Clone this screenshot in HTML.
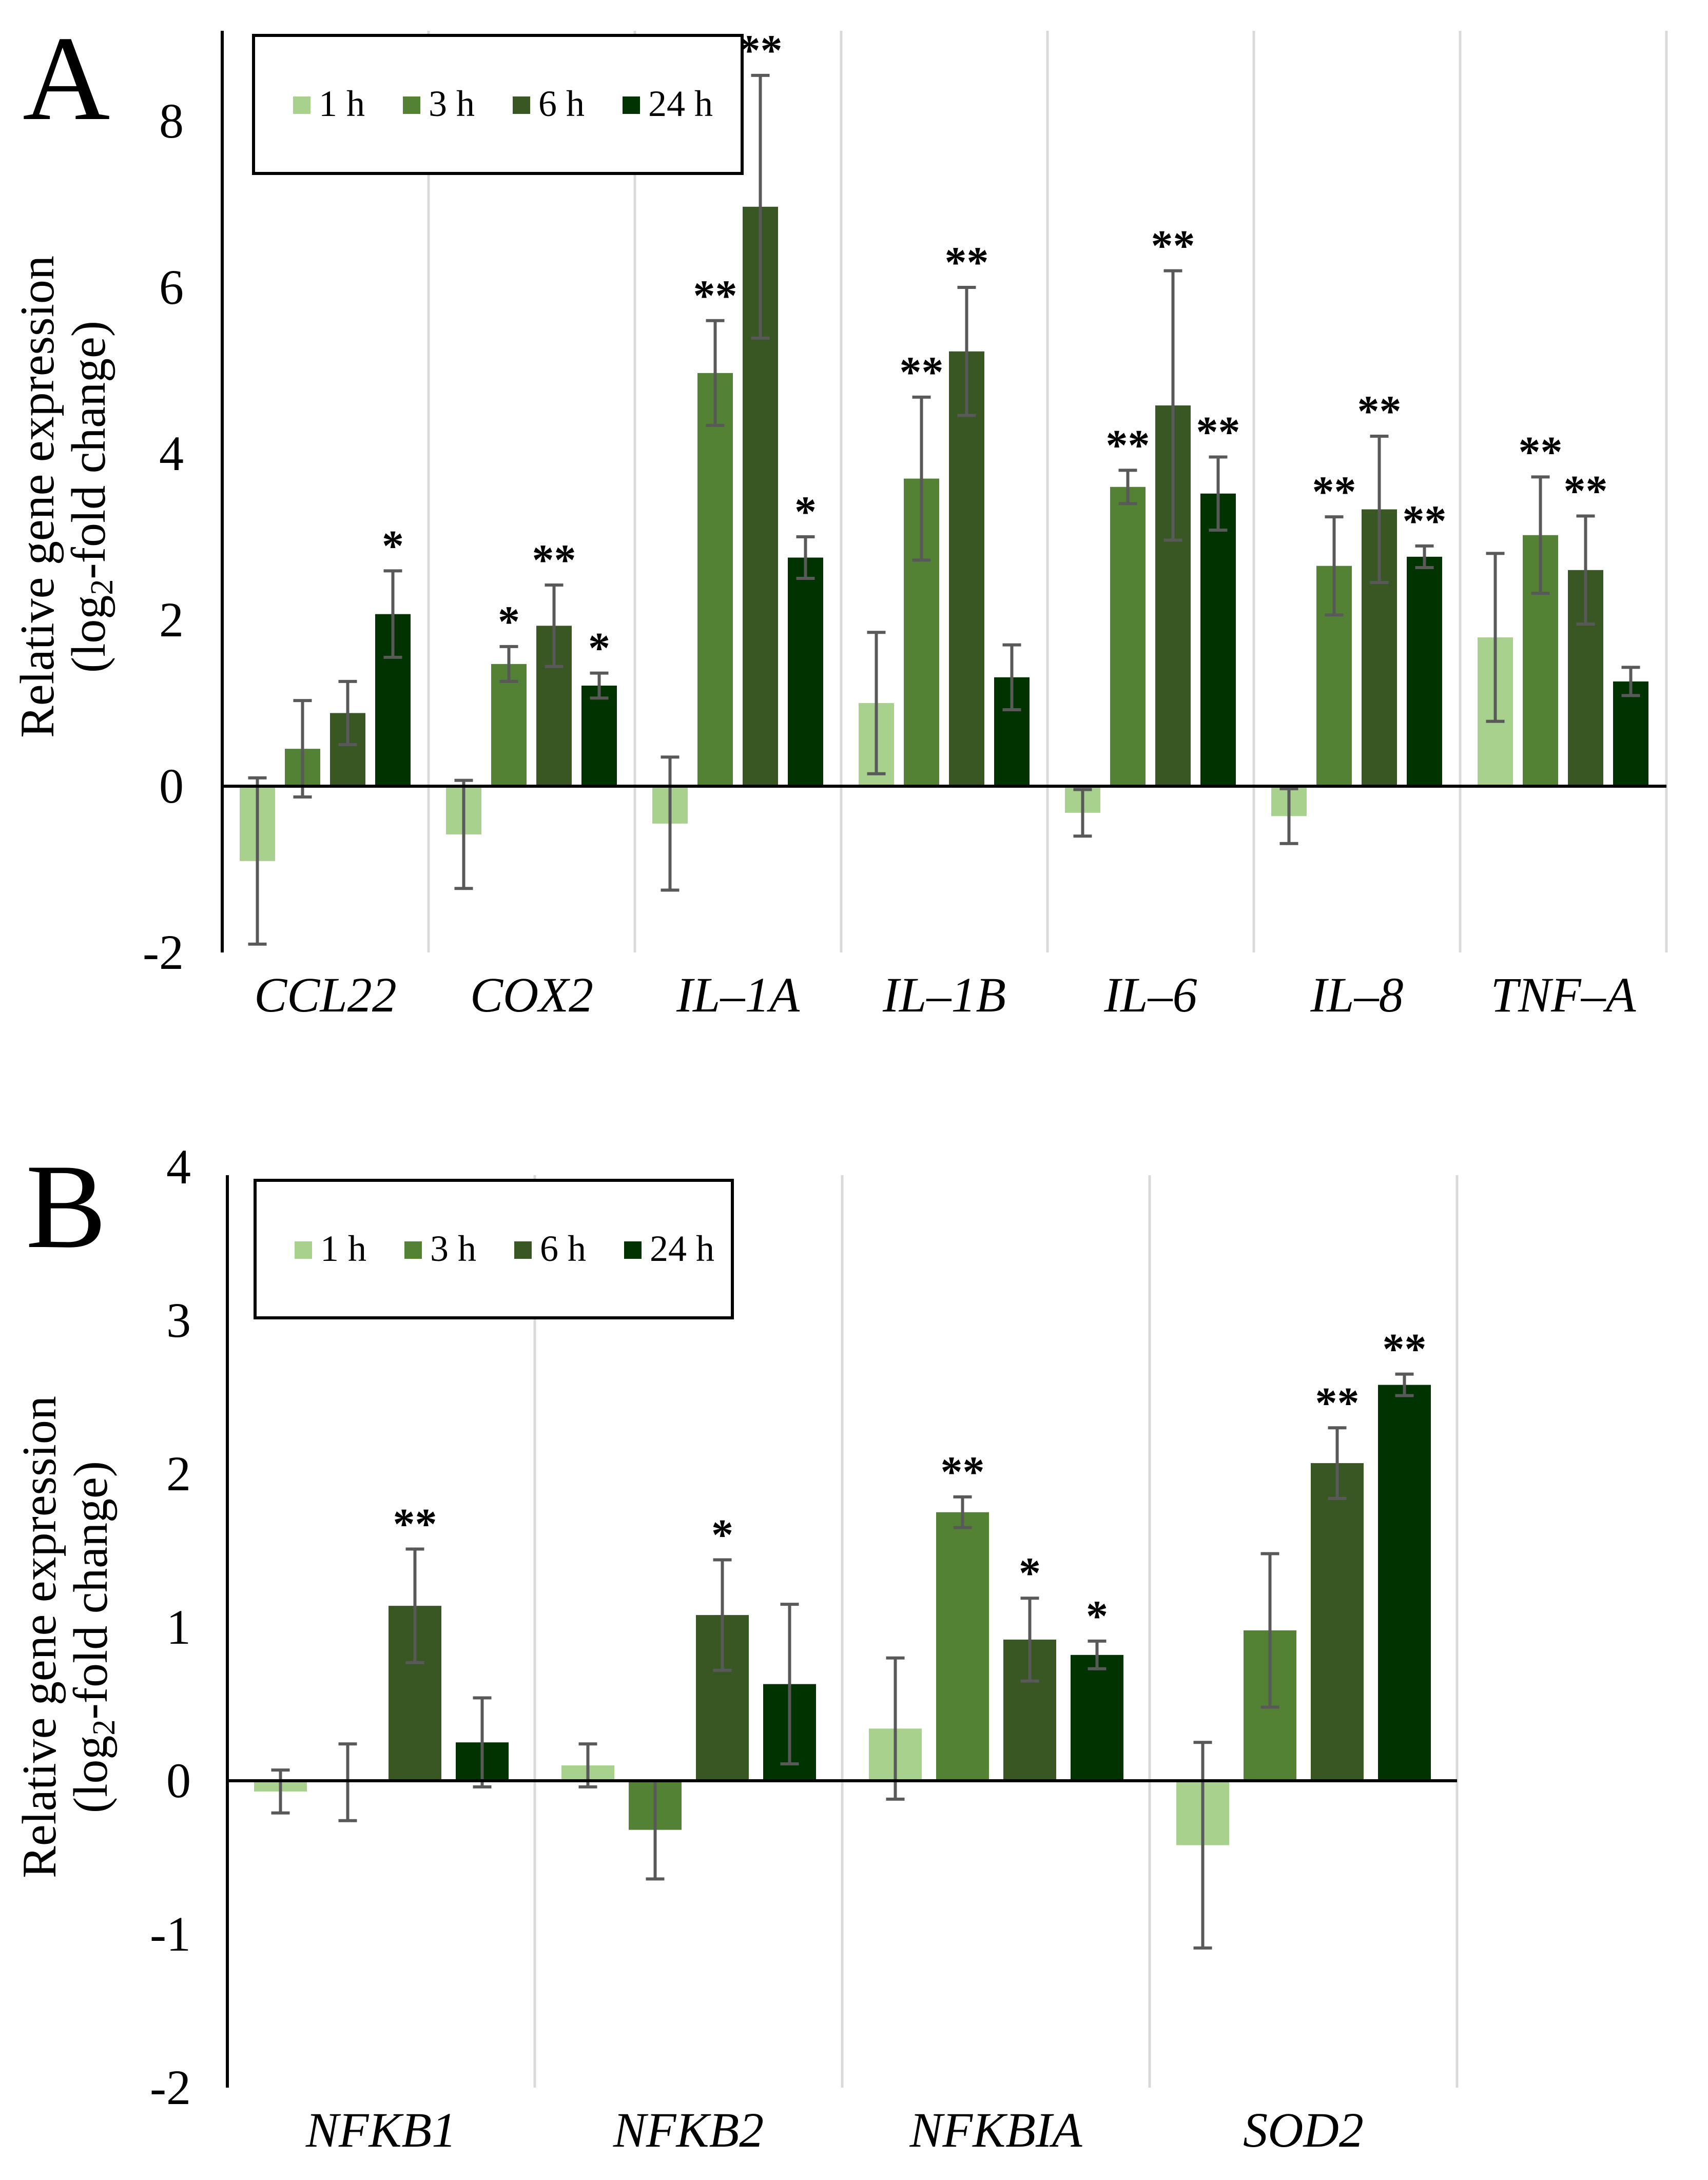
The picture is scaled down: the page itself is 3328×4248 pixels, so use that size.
<!DOCTYPE html>
<html><head><meta charset="utf-8">
<style>
html,body{margin:0;padding:0;background:#fff;}
svg{display:block;font-family:"Liberation Serif","Times New Roman",serif;}
</style></head>
<body>
<svg id="fig" width="3328" height="4248" viewBox="0 0 3328 4248" xmlns="http://www.w3.org/2000/svg">
<g id="panelA"></g>
<g id="panelB"></g>
</svg>
<script>
// Panel A data
const catsA = ["CCL22","COX2","IL\u20131A","IL\u20131B","IL\u20136","IL\u20138","TNF\u2013A"];
const h1A  = [-0.90,-0.58,-0.45,1.00,-0.32,-0.36,1.79];
const h3A  = [0.45,1.47,4.97,3.70,3.60,2.65,3.02];
const h6A  = [0.88,1.93,6.97,5.23,4.58,3.33,2.60];
const h24A = [2.07,1.21,2.75,1.31,3.52,2.76,1.26];
const e1A  = [1.00,0.65,0.80,0.85,0.28,0.33,1.01];
const e3A  = [0.58,0.21,0.63,0.98,0.20,0.59,0.70];
const e6A  = [0.38,0.49,1.58,0.77,1.62,0.88,0.65];
const e24A = [0.52,0.15,0.25,0.39,0.44,0.13,0.17];
const s1A  = ["","","","","","",""];
const s3A  = ["","*","**","**","**","**","**"];
const s6A  = ["","**","**","**","**","**","**"];
const s24A = ["*","*","*","","**","**",""];
const ticksA = [-2,0,2,4,6,8];
// Panel B data
const catsB = ["NFKB1","NFKB2","NFKBIA","SOD2"];
const h1B  = [-0.07,0.10,0.34,-0.42];
const h3B  = [-0.01,-0.32,1.75,0.98];
const h6B  = [1.14,1.08,0.92,2.07];
const h24B = [0.25,0.63,0.82,2.58];
const e1B  = [0.14,0.14,0.46,0.67];
const e3B  = [0.25,0.32,0.10,0.50];
const e6B  = [0.37,0.36,0.27,0.23];
const e24B = [0.29,0.52,0.09,0.07];
const s1B  = ["","","",""];
const s3B  = ["","","**",""];
const s6B  = ["**","*","*","**"];
const s24B = ["","","*","**"];
const ticksB = [-2,-1,0,1,2,3,4];
const seriesLabels = ["1 h","3 h","6 h","24 h"];
const colors = ["#a9d18e","#548235","#385723","#003300"];

const NS="http://www.w3.org/2000/svg";
function mk(parent,tag,attrs,text){const e=document.createElementNS(NS,tag);for(const k in attrs)e.setAttribute(k,attrs[k]);if(text!==undefined)e.textContent=text;parent.appendChild(e);return e;}

function drawPanel(g,cfg){
  const yS=v=>cfg.y0-v*cfg.unit;
  const xCat=i=>cfg.ax+i*cfg.cw;
  for(let i=1;i<=cfg.cats.length;i++){
    const l=mk(g,"line",{x1:xCat(i),x2:xCat(i),y1:cfg.top,y2:cfg.bot,stroke:"#d9d9d9","stroke-width":5});
    
    
  }
  for(let s=0;s<4;s++){
    for(let i=0;i<cfg.cats.length;i++){
      const v=cfg.vals[s][i], e=cfg.errs[s][i];
      const x=xCat(i)+cfg.off+s*cfg.step, w=cfg.bw;
      const r=mk(g,"rect",{x:x,y:Math.min(yS(v),yS(0)),width:w,height:Math.abs(yS(v)-yS(0)),fill:colors[s]});
      
      
      const cx=x+w/2, yt=yS(v+e), yb=yS(v-e);
      const eb=mk(g,"g",{stroke:"#595959","stroke-width":6});
      
      
      mk(eb,"line",{x1:cx,x2:cx,y1:yt,y2:yb});
      mk(eb,"line",{x1:cx-18,x2:cx+18,y1:yt,y2:yt});
      mk(eb,"line",{x1:cx-18,x2:cx+18,y1:yb,y2:yb});
      const st=cfg.stars[s][i];
      if(st){
        const t=mk(g,"text",{x:cx,y:yt-20,"text-anchor":"middle","font-size":86,"font-weight":"bold"},st);
        
        
      }
    }
  }
  const za=mk(g,"line",{x1:cfg.ax,x2:xCat(cfg.cats.length),y1:yS(0),y2:yS(0),stroke:"#000","stroke-width":6});
  
  
  const ya=mk(g,"line",{x1:cfg.ax,x2:cfg.ax,y1:cfg.top,y2:cfg.bot,stroke:"#000","stroke-width":6});
  
  
  cfg.ticks.forEach(t=>{
    const tx=mk(g,"text",{x:cfg.tickX,y:yS(t)+32,"text-anchor":"end","font-size":96},String(t));
    
    
  });
  cfg.cats.forEach((c,i)=>{
    const tx=mk(g,"text",{x:xCat(i)+cfg.cw/2,y:cfg.labY,"text-anchor":"middle","font-size":96,"font-style":"italic"},c);
    
    
  });
  const yt=mk(g,"text",{transform:"translate("+cfg.titleX+","+cfg.titleY+") rotate(-90)","text-anchor":"middle","font-size":94});
  
  
  mk(yt,"tspan",{x:0,y:0},"Relative gene expression");
  mk(yt,"tspan",{x:0,y:100},"(log");
  mk(yt,"tspan",{"font-size":62,dy:15},"2");
  mk(yt,"tspan",{"font-size":94,dy:-15},"-fold change)");
  const pl=mk(g,"text",{x:cfg.letterX,y:cfg.letterY,"font-size":236},cfg.letter);
  
  
  const lg=mk(g,"g",{});
  
  
  mk(lg,"rect",{x:cfg.lx,y:cfg.ly,width:cfg.lw,height:cfg.lh,fill:"#fff",stroke:"#000","stroke-width":6});
  for(let s=0;s<4;s++){
    const ex=cfg.lx+77+s*214;
    const le=mk(lg,"g",{});
    
    
    mk(le,"rect",{x:ex,y:cfg.ly+119,width:34,height:34,fill:colors[s]});
    mk(le,"text",{x:ex+50,y:cfg.ly+157,"font-size":72},seriesLabels[s]);
  }
}

drawPanel(document.getElementById("panelA"),{
  cats:catsA,vals:[h1A,h3A,h6A,h24A],errs:[e1A,e3A,e6A,e24A],stars:[s1A,s3A,s6A,s24A],ticks:ticksA,
  ax:433,cw:402,y0:1532,unit:162,top:60,bot:1856,off:34,step:88,bw:69,tickX:358,labY:1971,
  titleX:104,titleY:968,letter:"A",letterX:44,letterY:232,lx:494,ly:69,lw:952,lh:269
});
drawPanel(document.getElementById("panelB"),{
  cats:catsB,vals:[h1B,h3B,h6B,h24B],errs:[e1B,e3B,e6B,e24B],stars:[s1B,s3B,s6B,s24B],ticks:ticksB,
  ax:443,cw:599,y0:3470,unit:299,top:2290,bot:4068,off:52,step:131,bw:103,tickX:372,labY:4183,
  titleX:108,titleY:3190,letter:"B",letterX:50,letterY:2430,lx:497,ly:2300,lw:930,lh:268
});
</script>
</body></html>
